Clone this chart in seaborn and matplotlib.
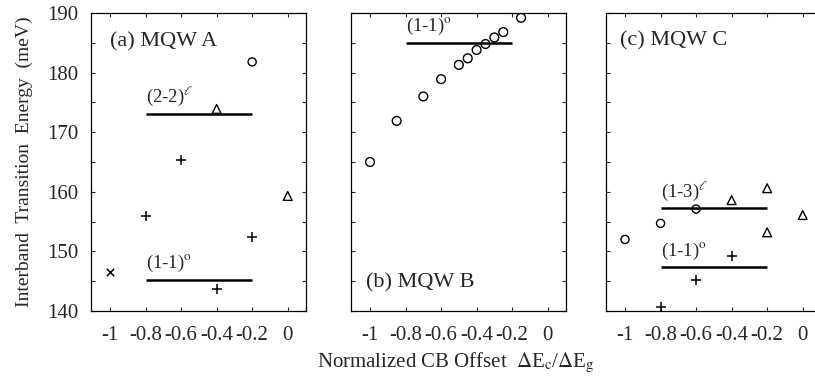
import numpy as np
import pandas as pd
import matplotlib
matplotlib.use('Agg')
import matplotlib.pyplot as plt
import seaborn as sns

# Panel (a) MQW A
a_cross_x = [-1.0]
a_cross_y = [146.5]
a_plus_x = [-0.8, -0.6, -0.4, -0.2]
a_plus_y = [155.9, 165.3, 143.7, 152.4]
a_circle_x = [-0.2]
a_circle_y = [181.8]
a_tri_x = [-0.4, 0.0]
a_tri_y = [173.9, 159.3]
a_levels = [173.0, 145.2]
a_level_labels = ['(2-2)$^{\\ell}$', '(1-1)$^{\\mathrm{o}}$']

# Panel (b) MQW B
b_circle_x = [-1.0, -0.85, -0.7, -0.6, -0.5, -0.45, -0.4, -0.35, -0.3,
              -0.25, -0.15]
b_circle_y = [165.0, 171.9, 176.0, 178.9, 181.3, 182.4, 183.8, 184.8,
              185.9, 186.8, 189.2]
b_levels = [185.0]
b_level_labels = ['(1-1)$^{\\mathrm{o}}$']

# Panel (c) MQW C
c_circle_x = [-1.0, -0.8, -0.6]
c_circle_y = [152.0, 154.7, 157.1]
c_tri_x = [-0.4, -0.2, -0.2, 0.0]
c_tri_y = [158.6, 160.6, 153.2, 156.1]
c_plus_x = [-0.8, -0.6, -0.4]
c_plus_y = [140.7, 145.2, 149.3]
c_levels = [157.2, 147.3]
c_level_labels = ['(1-3)$^{\\ell}$', '(1-1)$^{\\mathrm{o}}$']

level_x = (-0.8, -0.2)
panel_titles = ['(a) MQW A', '(b) MQW B', '(c) MQW C']
y_ticks = [140, 150, 160, 170, 180, 190]
x_ticks = [-1, -0.8, -0.6, -0.4, -0.2, 0]
x_tick_labels = ['-1', '-0.8', '-0.6', '-0.4', '-0.2', '0']

sns.set_style('ticks')
plt.rcParams['font.family'] = ['Liberation Serif', 'DejaVu Serif']
plt.rcParams['mathtext.fontset'] = 'stix'

W, H = 815, 387
fig = plt.figure(figsize=(W / 100, H / 100), dpi=100)


def px_axes(left, top, width, height):
    return fig.add_axes([left / W, 1 - (top + height) / H, width / W, height / H])


axes = [px_axes(91, 13, 215, 298),
        px_axes(351, 13, 215, 298),
        px_axes(606, 13, 215, 298)]


def scatter(ax, xs, ys, marker, size, line_marker=False):
    df = pd.DataFrame({'x': xs, 'y': ys})
    if line_marker:
        sns.scatterplot(data=df, x='x', y='y', ax=ax, marker=marker, s=size,
                        color='black', linewidth=1.1)
    else:
        sns.scatterplot(data=df, x='x', y='y', ax=ax, marker=marker, s=size,
                        facecolor='none', edgecolor='black', linewidth=1.0)


def levels(ax, ys, labels, dy=1.0):
    ax.hlines(ys, level_x[0], level_x[1], color='black', linewidth=1.8)
    for y, lab in zip(ys, labels):
        ax.text(level_x[0], y + dy, lab, fontsize=13.5, ha='left', va='bottom')


# (a)
ax = axes[0]
scatter(ax, a_cross_x, a_cross_y, 'x', 28, line_marker=True)
scatter(ax, a_plus_x, a_plus_y, '+', 55, line_marker=True)
scatter(ax, a_circle_x, a_circle_y, 'o', 34)
scatter(ax, a_tri_x, a_tri_y, '^', 40)
levels(ax, a_levels, a_level_labels)
ax.text(-1.0, 185.2, panel_titles[0], fontsize=16, va='center')

# (b)
ax = axes[1]
scatter(ax, b_circle_x, b_circle_y, 'o', 40)
levels(ax, b_levels, b_level_labels)
ax.text(-1.02, 144.7, panel_titles[1], fontsize=16, va='center')

# (c)
ax = axes[2]
scatter(ax, c_circle_x, c_circle_y, 'o', 34)
scatter(ax, c_tri_x, c_tri_y, '^', 40)
scatter(ax, c_plus_x, c_plus_y, '+', 55, line_marker=True)
levels(ax, c_levels, c_level_labels)
ax.text(-1.03, 185.4, panel_titles[2], fontsize=16, va='center')

for i, ax in enumerate(axes):
    ax.set_xlim(-1.107, 0.103)
    ax.set_ylim(140, 190)
    ax.set_xticks(x_ticks)
    ax.set_xticklabels(x_tick_labels, fontsize=15)
    ax.set_yticks(y_ticks)
    ax.set_yticks(np.arange(145, 190, 10), minor=True)
    ax.tick_params(axis='both', which='both', direction='in', top=True,
                   right=True, length=3, width=0.8)
    ax.tick_params(axis='x', pad=11)
    ax.tick_params(axis='y', pad=9)
    for sp in ax.spines.values():
        sp.set_linewidth(0.9)
        sp.set_color('black')
    ax.set_xlabel('')
    ax.set_ylabel('')
    if i == 0:
        ax.set_yticklabels([str(t) for t in y_ticks], fontsize=15)
    else:
        ax.set_yticklabels([])

axes[0].set_ylabel('Interband  Transition  Energy  (meV)', fontsize=14,
                   labelpad=10)
fig.text(456 / W, 1 - 363 / H,
         'Normalized CB Offset  $\\Delta$E$_{\\mathrm{c}}$/$\\Delta$E$_{\\mathrm{g}}$',
         fontsize=15, ha='center', va='center')

fig.savefig('out.png', dpi=100, facecolor='white')
